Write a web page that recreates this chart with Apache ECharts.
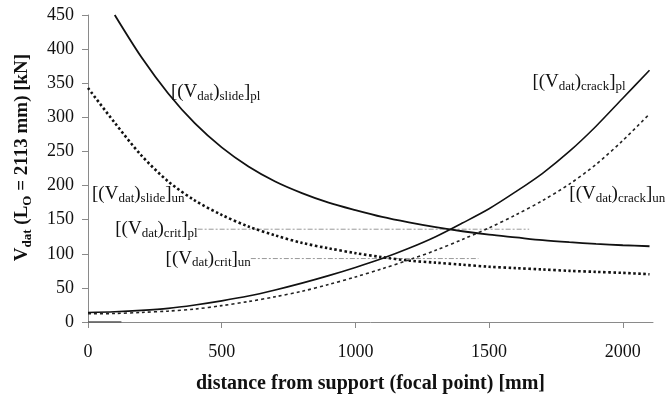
<!DOCTYPE html>
<html>
<head>
<meta charset="utf-8">
<script src="https://cdn.jsdelivr.net/npm/echarts@6/dist/echarts.min.js"></script>
<style>
  html, body { margin: 0; padding: 0; background: #fff; }
  #chart { width: 667px; height: 396px; }
</style>
</head>
<body>
<div id="chart"></div>
<script>
// distance from support (focal point) [mm]
const xSteps = [0, 100, 200, 300, 400, 500, 600, 700, 800, 900, 1000,
                1100, 1200, 1300, 1400, 1500, 1600, 1700, 1800, 1900, 2000, 2100];

// [(V_dat)_slide]_pl  (starts at 100 mm)
const slidePl = [null, 450, 388, 335, 291, 256, 228, 206, 189, 175, 164,
                 154, 146, 139, 133, 128, 124, 120, 117, 114.5, 112.5, 111];
// [(V_dat)_slide]_un
const slideUn = [343, 292, 244, 206, 178, 157, 140, 127, 116, 108, 101,
                 95, 90, 87, 84, 81, 79, 77, 75, 73.5, 72, 70];
// [(V_dat)_crack]_pl
const crackPl = [14, 15, 17, 20, 25, 31, 38, 47, 57, 68, 80,
                 93, 108, 125, 145, 166, 191, 218, 250, 287, 328, 369];
// [(V_dat)_crack]_un
const crackUn = [12, 12.5, 14, 16, 19, 24, 30, 37, 45, 55, 66,
                 78, 91, 105, 121, 138, 157, 178, 202, 231, 266, 305];

// critical levels and the span they are drawn over
const critPl = 136;
const critPlSpan = [410, 1650];
const critUn = 93;
const critUnSpan = [609, 1460];

// short base segment along the axis
const baseSpan = [0, 125];

const xTicks = [0, 500, 1000, 1500, 2000];

const FONT = 'Liberation Serif, Times New Roman, serif';
const rich = {
  n: { fontFamily: FONT, fontSize: 19, color: '#111', lineHeight: 22, verticalAlign: 'middle' },
  s: { fontFamily: FONT, fontSize: 13, color: '#111', lineHeight: 13, verticalAlign: 'bottom' }
};
const tag = (sub1, sub2) => `{n|[(V}{s|dat}{n|)}{s|${sub1}}{n|]}{s|${sub2}}`;

const pair = (xs, ys) => xs.map((x, i) => [x, ys[i]]).filter(p => p[1] != null);

function curve(name, ys, lineStyle, labelText, labelAt) {
  return {
    name, type: 'line', data: pair(xSteps, ys), smooth: 0.3,
    showSymbol: false, lineStyle, silent: true,
    markPoint: {
      symbol: 'circle', symbolSize: 0, silent: true,
      label: { show: true, position: 'right', distance: 0, formatter: labelText, rich },
      data: [{ coord: labelAt }]
    }
  };
}

function level(name, value, span, labelText) {
  return {
    name, type: 'line', data: [[span[0], value], [span[1], value]],
    showSymbol: false, silent: true,
    lineStyle: { color: '#9a9a9a', width: 1, type: [5, 2, 2, 2] },
    markPoint: {
      symbol: 'circle', symbolSize: 0, silent: true,
      label: { show: true, position: 'left', distance: 0, formatter: labelText, rich },
      data: [{ coord: [span[0], value] }]
    }
  };
}

const chart = echarts.init(document.getElementById('chart'), null, { renderer: 'canvas' });

chart.setOption({
  animation: false,
  backgroundColor: '#fff',
  grid: { left: 88, right: 14, top: 15, bottom: 74, containLabel: false, outerBoundsMode: 'none' },
  xAxis: {
    type: 'value', min: 0, max: 2113, interval: 500,
    name: 'distance from support (focal point) [mm]',
    nameLocation: 'middle', nameGap: 52,
    nameTextStyle: { fontFamily: FONT, fontSize: 20, fontWeight: 'bold', color: '#111' },
    axisLine: { lineStyle: { color: '#8a8a8a', width: 1 } },
    axisTick: { show: true, inside: false, length: 6, customValues: xTicks, lineStyle: { color: '#8a8a8a' } },
    axisLabel: {
      customValues: xTicks, fontFamily: FONT, fontSize: 18, color: '#111', margin: 21,
      formatter: v => String(v)
    },
    splitLine: { show: false }
  },
  yAxis: {
    type: 'value', min: 0, max: 450, interval: 50,
    name: '{b|V}{bs|dat}{b| (L}{bs|O}{b| = 2113 mm) [kN]}',
    nameLocation: 'middle', nameGap: 54, nameRotate: 90,
    nameTextStyle: {
      padding: [0, 0, 0, 22],
      rich: {
        b: { fontFamily: FONT, fontSize: 19, fontWeight: 'bold', color: '#111', lineHeight: 24, verticalAlign: 'middle' },
        bs: { fontFamily: FONT, fontSize: 13, fontWeight: 'bold', color: '#111', lineHeight: 13, verticalAlign: 'bottom' }
      }
    },
    axisLine: { show: true, lineStyle: { color: '#8a8a8a', width: 1 } },
    axisTick: { show: true, inside: false, length: 6, lineStyle: { color: '#8a8a8a' } },
    axisLabel: { fontFamily: FONT, fontSize: 18, color: '#111', margin: 14 },
    splitLine: { show: false }
  },
  series: [
    {
      name: 'base', type: 'line', silent: true, showSymbol: false,
      data: [[baseSpan[0], 0], [baseSpan[1], 0]],
      lineStyle: { color: '#555', width: 1.5 }
    },
    level('critPl', critPl, critPlSpan, tag('crit', 'pl')),
    level('critUn', critUn, critUnSpan, tag('crit', 'un')),
    curve('slidePl', slidePl, { color: '#111', width: 1.8 }, tag('slide', 'pl'), [310, 337]),
    curve('slideUn', slideUn, { color: '#111', width: 2.6, type: [2.5, 2.5] }, tag('slide', 'un'), [15, 188]),
    curve('crackPl', crackPl, { color: '#111', width: 1.6 }, tag('crack', 'pl'), [1662, 352]),
    curve('crackUn', crackUn, { color: '#222', width: 1.6, type: [3, 3] }, tag('crack', 'un'), [1800, 188])
  ]
});
</script>
</body>
</html>
